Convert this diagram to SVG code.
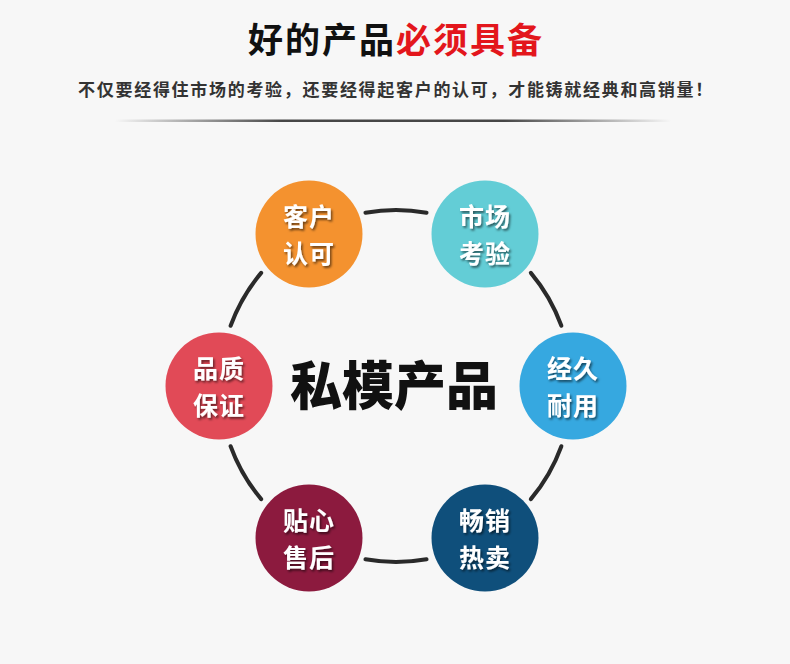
<svg xmlns="http://www.w3.org/2000/svg" width="790" height="664" viewBox="0 0 790 664">
<defs>
<linearGradient id="sep" x1="0" y1="0" x2="1" y2="0">
<stop offset="0" stop-color="#333" stop-opacity="0"/>
<stop offset="0.3" stop-color="#333" stop-opacity="0.9"/>
<stop offset="0.7" stop-color="#333" stop-opacity="0.9"/>
<stop offset="1" stop-color="#333" stop-opacity="0"/>
</linearGradient>
<filter id="ts" x="-20%" y="-20%" width="140%" height="140%">
<feDropShadow dx="1.5" dy="2" stdDeviation="1" flood-color="#000" flood-opacity="0.55"/>
</filter>
</defs>
<style>
.cjk{font-family:"Noto Sans CJK SC","Noto Sans CJK JP",sans-serif}
.lbl{font-family:"Noto Sans CJK SC",sans-serif;font-size:25px;font-weight:700;fill:#fff;text-anchor:middle;letter-spacing:1px;filter:url(#ts)}
.arc{fill:none;stroke:#2a2a2a;stroke-width:4;stroke-linecap:round}
</style>
<rect width="790" height="664" fill="#f7f7f7"/>
<g id="title">
<text x="396" y="53" class="cjk" font-size="35" font-weight="700" letter-spacing="2" text-anchor="middle"><tspan fill="#111">好的产品</tspan><tspan fill="#e3161c">必须具备</tspan></text>
<text x="396" y="96" class="cjk" font-size="17" font-weight="700" fill="#333" letter-spacing="1.7" text-anchor="middle">不仅要经得住市场的考验，还要经得起客户的认可，才能铸就经典和高销量！</text>
<rect x="115" y="119.5" width="556" height="2.5" fill="url(#sep)"/>
</g>
<g id="connectors">
<path class="arc" d="M365.44,212.67 A176,176 0 0 1 426.56,212.67"/>
<path class="arc" d="M530.83,272.87 A176,176 0 0 1 561.39,325.80"/>
<path class="arc" d="M561.39,446.20 A176,176 0 0 1 530.83,499.13"/>
<path class="arc" d="M426.56,559.33 A176,176 0 0 1 365.44,559.33"/>
<path class="arc" d="M261.17,499.13 A176,176 0 0 1 230.61,446.20"/>
<path class="arc" d="M230.61,325.80 A176,176 0 0 1 261.17,272.87"/>
</g>
<g id="center">
<text x="394" y="405" class="cjk" font-size="52" font-weight="900" fill="#111" text-anchor="middle">私模产品</text>
</g>
<g id="node-kehu">
<circle cx="309" cy="234" r="53.5" fill="#f4922f"/>
<text class="lbl"><tspan x="309" y="226">客户</tspan><tspan x="309" y="262.5">认可</tspan></text>
</g>
<g id="node-shichang">
<circle cx="485" cy="234" r="53.5" fill="#63cdd6"/>
<text class="lbl"><tspan x="485" y="226">市场</tspan><tspan x="485" y="262.5">考验</tspan></text>
</g>
<g id="node-jingjiu">
<circle cx="573" cy="386" r="53.5" fill="#36a8e0"/>
<text class="lbl"><tspan x="573" y="378">经久</tspan><tspan x="573" y="414.5">耐用</tspan></text>
</g>
<g id="node-changxiao">
<circle cx="485" cy="538" r="53.5" fill="#0f4f7b"/>
<text class="lbl"><tspan x="485" y="530">畅销</tspan><tspan x="485" y="566.5">热卖</tspan></text>
</g>
<g id="node-tiexin">
<circle cx="309" cy="538" r="53.5" fill="#8c1a3e"/>
<text class="lbl"><tspan x="309" y="530">贴心</tspan><tspan x="309" y="566.5">售后</tspan></text>
</g>
<g id="node-pinzhi">
<circle cx="219" cy="386" r="53.5" fill="#e14a57"/>
<text class="lbl"><tspan x="219" y="378">品质</tspan><tspan x="219" y="414.5">保证</tspan></text>
</g>
</svg>
